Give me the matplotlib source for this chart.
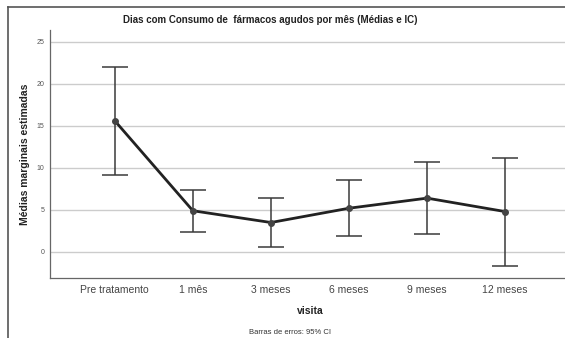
import matplotlib.pyplot as plt
import numpy as np

plt.rcParams['font.family'] = ['Liberation Sans', 'DejaVu Sans']

visitas = ["Pre tratamento", "1 mês", "3 meses", "6 meses", "9 meses", "12 meses"]
medias = [15.6, 4.9, 3.5, 5.2, 6.4, 4.8]
ic_inf = [9.2, 2.4, 0.6, 1.9, 2.1, -1.7]
ic_sup = [22.0, 7.4, 6.4, 8.6, 10.7, 11.2]
y_ticks = [0, 5, 10, 15, 20, 25]

W, H = 565, 338
fig = plt.figure(figsize=(W / 100, H / 100), dpi=100)

# outer frame (left and top edges visible)
fig.add_artist(plt.Line2D([8 / W, 8 / W], [0, 1 - 7 / H], color="#555555", lw=1.2))
fig.add_artist(plt.Line2D([8 / W, 1], [1 - 7 / H, 1 - 7 / H], color="#555555", lw=1.2))

ax_l, ax_r, ax_t, ax_b = 50, 570, 30, 278
ax = fig.add_axes([ax_l / W, 1 - ax_b / H, (ax_r - ax_l) / W, (ax_b - ax_t) / H])

x = np.arange(len(visitas))
m = np.array(medias)
lo = m - np.array(ic_inf)
hi = np.array(ic_sup) - m

ax.errorbar(x, m, yerr=[lo, hi], fmt="none", ecolor="#3a3a3a", elinewidth=1.1,
            capsize=9.5, capthick=1.1, zorder=3)
ax.plot(x, m, color="#222222", lw=2, marker="o", markersize=4,
        markerfacecolor="#444444", markeredgecolor="#444444", zorder=4)

ax.set_xlim(-0.83, 5.83)
ax.set_ylim(-3.1, 26.4)
ax.set_yticks(y_ticks)
ax.set_xticks(x)
ax.set_xticklabels(visitas, fontsize=7.5, color="#444444")
ax.tick_params(axis="y", labelsize=5, labelcolor="#555555", length=0, pad=4)
ax.tick_params(axis="x", length=0, pad=5)
ax.grid(axis="y", color="#cccccc", lw=1)
ax.set_axisbelow(True)
for s in ["top", "right"]:
    ax.spines[s].set_visible(False)
for s in ["left", "bottom"]:
    ax.spines[s].set_color("#666666")
    ax.spines[s].set_linewidth(0.9)

ax.set_ylabel("Médias marginais estimadas", fontsize=7.5, fontweight="bold",
              color="#222222")
ax.yaxis.set_label_coords(-20 / (ax_r - ax_l), 0.5)
ax.set_xlabel("visita", fontsize=7.5, fontweight="bold", color="#222222", labelpad=8)

fig.text(270 / W, 1 - 20 / H, "Dias com Consumo de  fármacos agudos por mês (Médias e IC)",
         ha="center", va="center", fontsize=7, fontweight="bold", color="#222222")
fig.text(290 / W, 1 - 332 / H, "Barras de erros: 95% CI", ha="center", va="center",
         fontsize=5.5, color="#333333")

fig.savefig("out.png", dpi=100)
